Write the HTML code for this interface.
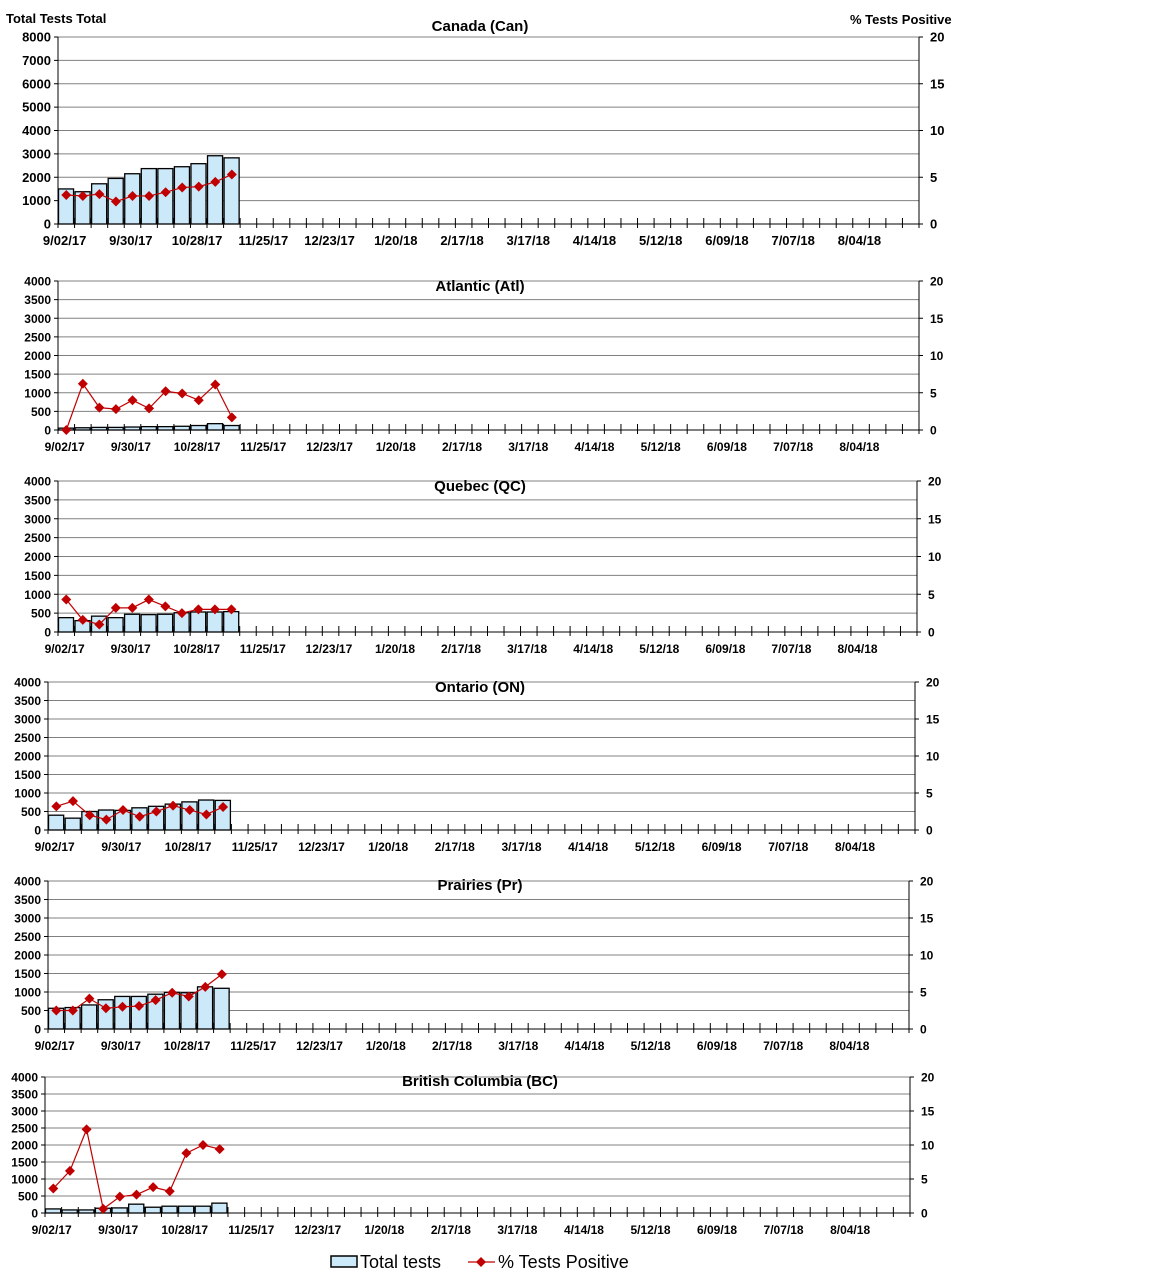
<!DOCTYPE html>
<html><head><meta charset="utf-8"><style>
body{margin:0;background:#fff;}
svg{display:block;font-family:"Liberation Sans",Arial,sans-serif;}
</style></head><body>
<svg id="s" width="1152" height="1284" xmlns="http://www.w3.org/2000/svg">
<text x="6" y="23" font-size="13" font-weight="bold">Total Tests  Total</text>
<text x="850" y="24" font-size="13" font-weight="bold">% Tests  Positive</text>
<rect x="331" y="1256" width="26" height="11" fill="#cce9f9" stroke="#000" stroke-width="1.5"/>
<text x="360" y="1268" font-size="18">Total tests</text>
<line x1="468" y1="1262" x2="495" y2="1262" stroke="#c00000" stroke-width="1.2"/>
<path d="M481 1257 L486 1262 L481 1267 L476 1262Z" fill="#c00000"/>
<text x="498" y="1268" font-size="18">% Tests Positive</text>
</svg>
<script>
const P=[
{t:"Canada (Can)",L:58,R:919,T:37,B:224,max:8000,st:1000,ty:31,ly:245,
b:[1500,1380,1720,1950,2150,2370,2370,2450,2580,2920,2830],p:[3.1,3.0,3.2,2.4,3.0,3.0,3.4,3.9,4.0,4.5,5.3]},
{t:"Atlantic (Atl)",L:58,R:919,T:281,B:430,max:4000,st:500,ty:291,ly:451,
b:[50,60,70,70,80,90,90,100,120,170,120],p:[0,6.2,3,2.8,4,2.9,5.2,4.9,4,6.1,1.7]},
{t:"Quebec (QC)",L:58,R:917,T:481,B:632,max:4000,st:500,ty:491,ly:653,
b:[380,300,420,380,470,460,470,510,530,530,540],p:[4.3,1.6,1.0,3.2,3.2,4.3,3.4,2.5,3.0,3.0,3.0]},
{t:"Ontario (ON)",L:48,R:915,T:682,B:830,max:4000,st:500,ty:692,ly:851,
b:[400,320,500,540,530,600,640,700,760,810,800],p:[3.2,3.9,2.0,1.4,2.7,1.8,2.5,3.3,2.7,2.1,3.1]},
{t:"Prairies (Pr)",L:48,R:909,T:881,B:1029,max:4000,st:500,ty:890,ly:1050,
b:[560,580,650,790,880,880,940,990,980,1140,1100],p:[2.5,2.5,4.1,2.8,3.0,3.1,3.9,4.9,4.4,5.7,7.4]},
{t:"British Columbia (BC)",L:45,R:910,T:1077,B:1213,max:4000,st:500,ty:1086,ly:1234,
b:[120,90,90,140,150,260,170,200,200,200,290],p:[3.6,6.2,12.3,0.6,2.4,2.7,3.8,3.2,8.8,10.0,9.4]}];
const labs=["9/02/17","9/30/17","10/28/17","11/25/17","12/23/17","1/20/18","2/17/18","3/17/18","4/14/18","5/12/18","6/09/18","7/07/18","8/04/18"];
let h="";
for(const c of P){
 const H=c.B-c.T,W=(c.R-c.L)/52,fs=c.max==8000?13:12;
 const n=c.max/c.st;
 for(let i=0;i<=n;i++){const y=c.B-H*i/n;
  if(i>0)h+=`<line x1="${c.L}" y1="${y}" x2="${c.R}" y2="${y}" stroke="#808080" stroke-width="1"/>`;
  h+=`<line x1="${c.L-4}" y1="${y}" x2="${c.L}" y2="${y}" stroke="#000"/>`;
  h+=`<text x="${c.L-7}" y="${y+4.5}" font-size="${fs}" font-weight="bold" text-anchor="end">${c.st*i}</text>`;}
 for(let i=0;i<=4;i++){const y=c.B-H*i/4;
  h+=`<line x1="${c.R}" y1="${y}" x2="${c.R+4}" y2="${y}" stroke="#000"/>`;
  h+=`<text x="${c.R+11}" y="${y+4.5}" font-size="${fs}" font-weight="bold">${5*i}</text>`;}
 c.b.forEach((v,i)=>{const bh=H*v/c.max;h+=`<rect x="${c.L+i*W+0.5}" y="${c.B-bh}" width="${W-1.5}" height="${bh}" fill="#cce9f9" stroke="#000" stroke-width="1.3"/>`;});
 h+=`<line x1="${c.L}" y1="${c.T}" x2="${c.L}" y2="${c.B}" stroke="#000"/><line x1="${c.R}" y1="${c.T}" x2="${c.R}" y2="${c.B}" stroke="#000"/><line x1="${c.L}" y1="${c.B}" x2="${c.R}" y2="${c.B}" stroke="#000"/>`;
 for(let i=0;i<=52;i++){const x=c.L+i*W;h+=`<line x1="${x}" y1="${c.B-6}" x2="${x}" y2="${c.B+4}" stroke="#000"/>`;}
 labs.forEach((l,k)=>{const x=c.L+k*4*W+W*0.4;h+=`<text x="${x}" y="${c.ly}" font-size="${fs}" font-weight="bold" text-anchor="middle">${l}</text>`;});
 let pts=c.p.map((v,i)=>[c.L+(i+0.5)*W,c.B-H*v/20]);
 h+=`<polyline points="${pts.map(q=>q.join(',')).join(' ')}" fill="none" stroke="#c00000" stroke-width="1.2"/>`;
 pts.forEach(([x,y])=>h+=`<path d="M${x} ${y-5}L${x+5} ${y}L${x} ${y+5}L${x-5} ${y}Z" fill="#c00000"/>`);
 h+=`<text x="480" y="${c.ty}" font-size="15" font-weight="bold" text-anchor="middle">${c.t}</text>`;
}
document.getElementById("s").insertAdjacentHTML("beforeend",h);
</script>
</body></html>
